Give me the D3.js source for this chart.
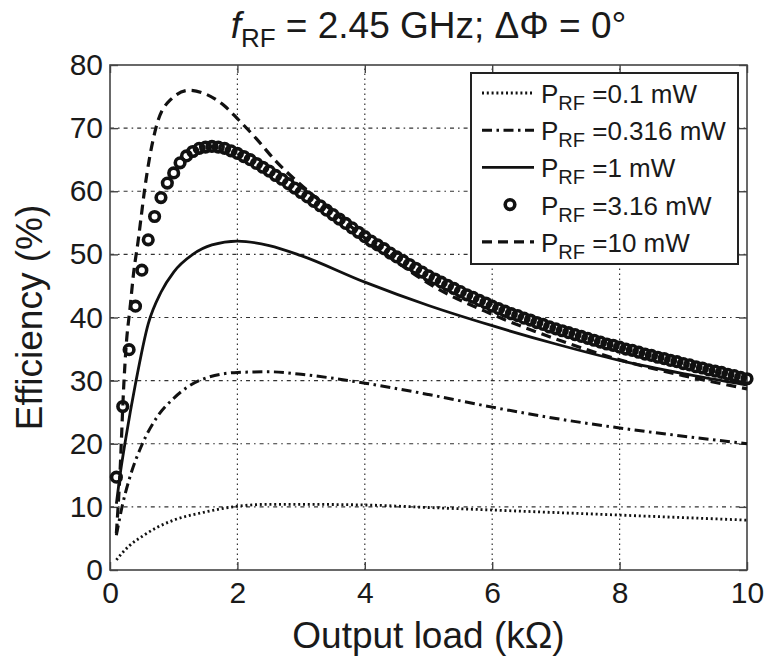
<!DOCTYPE html>
<html>
<head>
<meta charset="utf-8">
<script src="https://cdn.jsdelivr.net/npm/d3@7"></script>
<style>
  body { margin: 0; background: #fff; }
  svg text { font-family: "Liberation Sans", Arial, Helvetica, sans-serif; fill: #1a1a1a; }
</style>
</head>
<body>
<div id="chart"></div>
<script>
// P_RF = 0.1 mW (dotted)
const load01 = [0.1, 0.2, 0.3, 0.5, 0.75, 1.0, 1.5, 2.0, 2.5, 3.0, 4.0, 5.0, 6.0, 7.0, 8.0, 9.0, 10.0];
const eff01  = [1.6, 2.8, 3.8, 5.3, 6.8, 7.9, 9.2, 10.1, 10.4, 10.4, 10.3, 9.9, 9.5, 9.1, 8.7, 8.3, 7.9];

// P_RF = 0.316 mW (dash-dot)
const load0316 = [0.1, 0.2, 0.3, 0.5, 0.75, 1.0, 1.4, 2.0, 2.5, 3.0, 4.0, 5.0, 6.0, 7.0, 8.0, 9.0, 10.0];
const eff0316  = [5.5, 10.5, 14.3, 19.8, 24.4, 27.2, 30.0, 31.3, 31.4, 31.0, 29.6, 27.8, 25.8, 24.0, 22.5, 21.2, 20.0];

// P_RF = 1 mW (solid)
const load1 = [0.1, 0.15, 0.25, 0.4, 0.6, 0.8, 1.0, 1.3, 1.6, 2.0, 2.5, 3.0, 4.0, 5.0, 6.0, 7.0, 8.0, 9.0, 10.0];
const eff1  = [10.5, 14.5, 21.0, 29.5, 39.0, 44.0, 47.2, 50.0, 51.5, 52.1, 51.4, 49.8, 45.6, 41.9, 38.7, 35.8, 33.2, 31.1, 29.3];

// P_RF = 3.16 mW (circles)
const load316 = [
  0.1, 0.2, 0.3, 0.4, 0.5, 0.6, 0.7, 0.8, 0.9, 1.0,
  1.1, 1.2, 1.3, 1.4, 1.5, 1.6, 1.7, 1.8, 1.9, 2.0,
  2.1, 2.2, 2.3, 2.4, 2.5, 2.6, 2.7, 2.8, 2.9, 3.0,
  3.1, 3.2, 3.3, 3.4, 3.5, 3.6, 3.7, 3.8, 3.9, 4.0,
  4.1, 4.2, 4.3, 4.4, 4.5, 4.6, 4.7, 4.8, 4.9, 5.0,
  5.1, 5.2, 5.3, 5.4, 5.5, 5.6, 5.7, 5.8, 5.9, 6.0,
  6.1, 6.2, 6.3, 6.4, 6.5, 6.6, 6.7, 6.8, 6.9, 7.0,
  7.1, 7.2, 7.3, 7.4, 7.5, 7.6, 7.7, 7.8, 7.9, 8.0,
  8.1, 8.2, 8.3, 8.4, 8.5, 8.6, 8.7, 8.8, 8.9, 9.0,
  9.1, 9.2, 9.3, 9.4, 9.5, 9.6, 9.7, 9.8, 9.9, 10.0
];
const eff316 = [
  14.7, 25.9, 34.9, 41.8, 47.5, 52.3, 56.0, 59.0, 61.3, 62.9,
  64.5, 65.6, 66.3, 66.8, 67.0, 67.1, 67.0, 66.8, 66.4, 66.0,
  65.5, 65.0, 64.4, 63.8, 63.2, 62.5, 61.9, 61.2, 60.5, 59.8,
  59.1, 58.4, 57.7, 57.0, 56.3, 55.6, 54.9, 54.2, 53.5, 52.8,
  52.1, 51.5, 50.9, 50.2, 49.6, 49.0, 48.4, 47.8, 47.2, 46.6,
  46.1, 45.6, 45.1, 44.6, 44.1, 43.6, 43.2, 42.7, 42.3, 41.8,
  41.4, 41.0, 40.6, 40.3, 39.9, 39.6, 39.2, 38.9, 38.5, 38.2,
  37.9, 37.6, 37.3, 37.0, 36.7, 36.4, 36.1, 35.8, 35.6, 35.3,
  35.0, 34.8, 34.5, 34.2, 34.0, 33.7, 33.5, 33.2, 33.0, 32.7,
  32.5, 32.2, 32.0, 31.7, 31.5, 31.3, 31.0, 30.8, 30.5, 30.3
];

// P_RF = 10 mW (dashed)
const load10 = [0.1, 0.15, 0.22, 0.25, 0.32, 0.37, 0.44, 0.49, 0.54, 0.72, 0.95, 1.25, 1.5, 1.8, 2.0, 2.3, 2.6, 3.0, 3.5, 4.0, 4.5, 5.0, 6.0, 7.0, 8.0, 9.0, 10.0];
const eff10  = [5.8, 14.0, 30.0, 35.0, 42.0, 47.0, 52.0, 56.0, 60.0, 70.0, 74.5, 76.0, 75.4, 73.5, 71.5, 68.3, 64.8, 61.0, 56.8, 52.6, 48.8, 45.4, 40.5, 36.6, 33.3, 30.8, 28.7];

const legendLabels = ['=0.1 mW', '=0.316 mW', '=1 mW', '=3.16 mW', '=10 mW'];
const xTicks = [0, 2, 4, 6, 8, 10];
const yTicks = [0, 10, 20, 30, 40, 50, 60, 70, 80];

const width = 765, height = 659;
const margin = {left: 110, right: 18, top: 65, bottom: 89};
const plotW = width - margin.left - margin.right;
const plotH = height - margin.top - margin.bottom;

const svg = d3.select('#chart').append('svg')
  .attr('width', width)
  .attr('height', height);

const x = d3.scaleLinear().domain([0, 10]).range([margin.left, margin.left + plotW]);
const y = d3.scaleLinear().domain([0, 80]).range([margin.top + plotH, margin.top]);

// grid
const grid = svg.append('g').attr('stroke', '#333').attr('stroke-width', 1.2);
grid.selectAll('.vgrid')
  .data(xTicks.filter(d => d > 0 && d < 10))
  .join('line')
  .attr('x1', d => x(d)).attr('x2', d => x(d))
  .attr('y1', y(0)).attr('y2', y(80))
  .attr('stroke-dasharray', '1.6,3.4');
grid.selectAll('.hgrid')
  .data(yTicks.filter(d => d > 0 && d < 80))
  .join('line')
  .attr('x1', x(0)).attr('x2', x(10))
  .attr('y1', d => y(d)).attr('y2', d => y(d))
  .attr('stroke-dasharray', '4,4,1.6,4');

// axes (MATLAB style box with inward ticks)
const tickLen = 8;
svg.append('g').attr('transform', `translate(0,${y(0)})`)
  .call(d3.axisBottom(x).tickValues(xTicks).tickSize(-tickLen).tickPadding(12))
  .call(g => g.select('.domain').remove());
svg.append('g').attr('transform', `translate(0,${y(80)})`)
  .call(d3.axisTop(x).tickValues(xTicks).tickSize(-tickLen).tickFormat(''))
  .call(g => g.select('.domain').remove());
svg.append('g').attr('transform', `translate(${x(0)},0)`)
  .call(d3.axisLeft(y).tickValues(yTicks).tickSize(-tickLen).tickPadding(7))
  .call(g => g.select('.domain').remove());
svg.append('g').attr('transform', `translate(${x(10)},0)`)
  .call(d3.axisRight(y).tickValues(yTicks).tickSize(-tickLen).tickFormat(''))
  .call(g => g.select('.domain').remove());

svg.selectAll('.tick line').attr('stroke', '#444').attr('stroke-width', 1.4);
svg.selectAll('.tick text')
  .attr('font-size', 30)
  .attr('fill', '#1a1a1a')
  .style('font-family', '"Liberation Sans", Arial, sans-serif');

svg.append('rect')
  .attr('x', x(0)).attr('y', y(80))
  .attr('width', x(10) - x(0)).attr('height', y(0) - y(80))
  .attr('fill', 'none')
  .attr('stroke', '#444')
  .attr('stroke-width', 1.6);

// series
const series = [
  {xs: load01, ys: eff01, dash: '2,2.8', w: 2.8},
  {xs: load0316, ys: eff0316, dash: '10,4.5,2.5,4.5', w: 3},
  {xs: load1, ys: eff1, dash: null, w: 2.8},
  {xs: load10, ys: eff10, dash: '10,6', w: 3.2}
];
const line = d3.line()
  .x(d => x(d[0]))
  .y(d => y(d[1]))
  .curve(d3.curveMonotoneX);

const plot = svg.append('g');
series.forEach(s => {
  plot.append('path')
    .datum(s.xs.map((v, i) => [v, s.ys[i]]))
    .attr('d', line)
    .attr('fill', 'none')
    .attr('stroke', '#111')
    .attr('stroke-width', s.w)
    .attr('stroke-dasharray', s.dash);
});

plot.selectAll('circle.p316')
  .data(load316.map((v, i) => [v, eff316[i]]))
  .join('circle')
  .attr('class', 'p316')
  .attr('cx', d => x(d[0]))
  .attr('cy', d => y(d[1]))
  .attr('r', 4.8)
  .attr('fill', 'none')
  .attr('stroke', '#111')
  .attr('stroke-width', 3.6);

// legend
const legend = svg.append('g');
legend.append('rect')
  .attr('x', 471).attr('y', 73)
  .attr('width', 267).attr('height', 191)
  .attr('fill', '#fff')
  .attr('stroke', '#222')
  .attr('stroke-width', 2);

const legendStyles = [
  {dash: '2,2.8', w: 2.8},
  {dash: '10,4.5,2.5,4.5', w: 3},
  {dash: null, w: 2.8},
  {marker: true},
  {dash: '10,6', w: 3.2}
];
legendLabels.forEach((lab, i) => {
  const cy = 93 + i * 37.2;
  const st = legendStyles[i];
  if (st.marker) {
    legend.append('circle')
      .attr('cx', 510).attr('cy', cy).attr('r', 4.8)
      .attr('fill', 'none').attr('stroke', '#111').attr('stroke-width', 3.6);
  } else {
    legend.append('line')
      .attr('x1', 482).attr('x2', 534)
      .attr('y1', cy).attr('y2', cy)
      .attr('stroke', '#111')
      .attr('stroke-width', st.w)
      .attr('stroke-dasharray', st.dash);
  }
  const t = legend.append('text')
    .attr('x', 541).attr('y', cy + 10)
    .attr('font-size', 26);
  t.append('tspan').text('P');
  t.append('tspan').attr('font-size', 20).attr('dy', 7).text('RF');
  t.append('tspan').attr('dy', -7).text(' ' + lab);
});

// title
const title = svg.append('text')
  .attr('x', x(5)).attr('y', 38)
  .attr('text-anchor', 'middle')
  .attr('font-size', 37);
title.append('tspan').attr('font-style', 'italic').text('f');
title.append('tspan').attr('font-size', 26).attr('dy', 9).text('RF');
title.append('tspan').attr('dy', -9).text(' = 2.45 GHz; ΔΦ = 0°');

// axis labels
svg.append('text')
  .attr('x', x(5)).attr('y', 648)
  .attr('text-anchor', 'middle')
  .attr('font-size', 37)
  .text('Output load (kΩ)');

svg.append('text')
  .attr('transform', `translate(42,${y(40)}) rotate(-90)`)
  .attr('text-anchor', 'middle')
  .attr('font-size', 37)
  .text('Efficiency (%)');
</script>
</body>
</html>
